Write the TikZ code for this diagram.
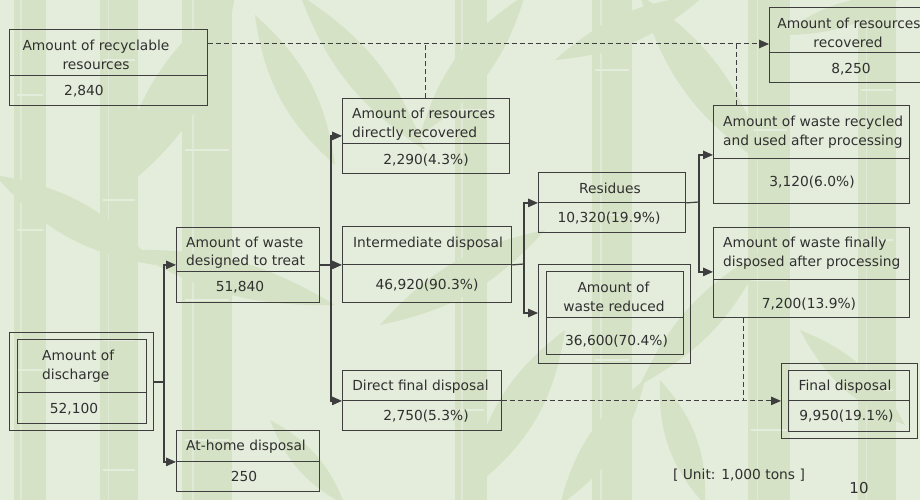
\documentclass[tikz,border=0pt]{standalone}
\usepackage{fontspec}
\setmainfont{DejaVu Sans}
\usetikzlibrary{arrows.meta,calc}

\definecolor{paper}{RGB}{228,237,220}
\definecolor{bamboo}{RGB}{213,226,197}
\definecolor{rule}{RGB}{62,62,62}
\definecolor{ink}{RGB}{48,48,48}

\tikzset{
  cell/.style={draw=rule, line width=0.9pt, inner sep=0pt, anchor=north west},
  frame/.style={cell},
  txt/.style={text=ink, font=\fontsize{13.8}{16}\selectfont, inner sep=0pt, anchor=base},
  ltxt/.style={txt, anchor=base west},
  flow/.style={draw=rule, line width=1.2pt},
  arr/.style={flow, -{Triangle[length=10pt,width=8.5pt]}},
  dflow/.style={draw=rule, line width=1pt, dash pattern=on 5pt off 3pt},
  darr/.style={dflow, -{Triangle[length=10pt,width=8.5pt]}},
}

% a box made of a label cell over a value cell: name, x1, y1, ymid, x2, y2
\newcommand\cellpair[6]{%
  \node[cell, minimum width={#5-#2}, minimum height={#4-#3}] (#1) at (#2,#3) {};
  \node[cell, minimum width={#5-#2}, minimum height={#6-#4}] (#1-v) at (#2,#4) {};}

% a bamboo stalk: left x, width, joint positions
\newcommand\stalk[3]{%
  \fill[bamboo] (#1,0) rectangle ({#1+#2},500);
  \foreach \j in {#3} {\draw[paper, line width=2.5pt] ({#1+3},\j) -- ({#1+#2-3},\j);}
  \draw[paper, line width=1.5pt, opacity=0.7] ({#1+#2*0.22},0) -- ({#1+#2*0.22},500);}

% a bamboo leaf between two tips
\newcommand\bleaf[5]{%
  \fill[bamboo] (#1,#2) to[bend left=#5] (#3,#4) to[bend left=#5] (#1,#2);}

\begin{document}
\begin{tikzpicture}[x=1pt,y=-1pt]
\useasboundingbox (0,0) rectangle (920,500);

% ---- background ----
\begin{scope}
\clip (0,0) rectangle (920,500);
\fill[paper] (0,0) rectangle (920,500);
\stalk{14}{32}{95,230,370}
\stalk{100}{38}{60,200,340,470}
\stalk{182}{50}{150,300,440}
\stalk{455}{32}{110,260,410}
\stalk{592}{40}{70,215,360}
\stalk{748}{42}{130,280,430}
\stalk{858}{38}{90,240,390}
\bleaf{235}{-5}{115}{195}{22}
\bleaf{255}{15}{335}{165}{20}
\bleaf{300}{-5}{425}{150}{18}
\bleaf{525}{-5}{420}{135}{20}
\bleaf{555}{60}{705}{-5}{18}
\bleaf{640}{-5}{765}{165}{20}
\bleaf{780}{35}{905}{-5}{18}
\bleaf{-5}{175}{155}{265}{20}
\bleaf{130}{250}{335}{305}{16}
\bleaf{380}{325}{545}{230}{18}
\bleaf{470}{490}{565}{330}{22}
\bleaf{560}{505}{645}{380}{20}
\bleaf{640}{385}{765}{250}{18}
\bleaf{800}{330}{905}{425}{20}
\bleaf{705}{505}{660}{380}{22}
\bleaf{270}{420}{345}{505}{20}
\end{scope}

% ---- boxes ----
\cellpair{rec}{9}{29}{75}{207}{105}
\cellpair{rr}{769}{7}{52}{933}{82}
\cellpair{dr}{342}{98}{143}{509}{173}
\cellpair{ru}{713}{105}{158}{909}{203}
\cellpair{res}{538}{172}{202}{685}{232}
\node[frame, minimum width=152, minimum height=99] (red) at (538,264) {};
\cellpair{redi}{546}{271}{317}{683}{354}
\cellpair{im}{342}{226}{264}{511}{302}
\cellpair{fd}{713}{227}{279}{909}{317}
\cellpair{dfd}{342}{370}{400}{501}{430}
\node[frame, minimum width=136, minimum height=75] (fin) at (781,363) {};
\cellpair{fini}{788}{370}{400}{909}{431}
\cellpair{dt}{176}{227}{271}{319}{302}
\node[frame, minimum width=144, minimum height=98] (dis) at (9,332) {};
\cellpair{disi}{17}{339}{392}{146}{423}
\cellpair{ah}{176}{430}{461}{319}{491}

% ---- texts ----
\node[txt] (rec-l1) at (96,50.5) {Amount of recyclable};
\node[txt] (rec-l2) at (96,70) {resources};
\node[txt] (rec-n) at (84,96) {2,840};

\node[txt] (rr-l1) at (849,29) {Amount of resources};
\node[txt] (rr-l2) at (848,47.3) {recovered};
\node[txt] (rr-n) at (851,73.3) {8,250};

\node[ltxt] (dr-l1) at (352,119) {Amount of resources};
\node[ltxt] (dr-l2) at (352,137.7) {directly recovered};
\node[txt] (dr-n) at (426,164) {2,290(4.3\%)};

\node[ltxt] (ru-l1) at (723,126.7) {Amount of waste recycled};
\node[ltxt] (ru-l2) at (723,145) {and used after processing};
\node[txt] (ru-n) at (812,186) {3,120(6.0\%)};

\node[txt] (res-l1) at (610,193) {Residues};
\node[txt] (res-n) at (609,222) {10,320(19.9\%)};

\node[txt] (red-l1) at (613.5,292.7) {Amount of};
\node[txt] (red-l2) at (614,311.7) {waste reduced};
\node[txt] (red-n) at (616.5,345) {36,600(70.4\%)};

\node[txt] (im-l1) at (428,247.3) {Intermediate disposal};
\node[txt] (im-n) at (427,289.3) {46,920(90.3\%)};

\node[ltxt] (fd-l1) at (723,247.7) {Amount of waste finally};
\node[ltxt] (fd-l2) at (723,266) {disposed after processing};
\node[txt] (fd-n) at (809,308.7) {7,200(13.9\%)};

\node[txt] (dfd-l1) at (420.5,390.7) {Direct final disposal};
\node[txt] (dfd-n) at (426,420.7) {2,750(5.3\%)};

\node[txt] (fin-l1) at (845,390.7) {Final disposal};
\node[txt] (fin-n) at (846.5,420.7) {9,950(19.1\%)};

\node[ltxt] (dt-l1) at (186,247.3) {Amount of waste};
\node[ltxt] (dt-l2) at (186,265.7) {designed to treat};
\node[txt] (dt-n) at (240,291.7) {51,840};

\node[ltxt] (dis-l1) at (42,360.7) {Amount of};
\node[ltxt] (dis-l2) at (42,379) {discharge};
\node[txt] (dis-n) at (74,413.3) {52,100};

\node[txt] (ah-l1) at (246,450.7) {At-home disposal};
\node[txt] (ah-n) at (244,481) {250};

\node[txt] (unit) at (739,479) {[ Unit: 1,000 tons ]};
\node[txt, font=\fontsize{15}{17}\selectfont] (page) at (859,493.3) {10};

% ---- junctions ----
\coordinate (j1) at (164,382);
\coordinate (j2) at (331,264);
\coordinate (j3) at (524,264);
\coordinate (j4) at (699,202);
\coordinate (topline) at (0,44);
\coordinate (ru-up) at ([xshift=23pt]ru.north west);
\coordinate (fd-dn) at ([xshift=30pt]fd-v.south west);

% ---- solid flows ----
\draw[flow] (dis.east |- j1) -- (j1);
\draw[arr] (j1) |- ([yshift=7pt]dt.south west);
\draw[arr] (j1) |- (ah.south west);

\draw[arr] (dt.east |- im.south west) -- (im.south west);
\draw[arr] (j2) |- ([yshift=8pt]dr.south west);
\draw[arr] (j2) |- (dfd.south west);

\draw[flow] (im.south east) -- (j3);
\draw[arr] (j3) |- (res.south west);
\draw[arr] (j3) |- ([yshift=-49pt]red.north west);

\draw[flow] (res.south east) -- (j4);
\draw[arr] (j4) |- ([yshift=4pt]ru.south west);
\draw[arr] (j4) |- ([yshift=8pt]fd.south west);

% ---- dashed flows ----
\draw[darr] ([yshift=-15pt]rec.north east) -- ([yshift=-37pt]rr.north west);
\draw[dflow] (dr.north) -- (dr.north |- topline);
\draw[dflow] (ru-up) -- (ru-up |- topline);
\draw[darr] (dfd.south east) -- (fin.west |- dfd.south east);
\draw[dflow] (fd-dn) -- (fd-dn |- dfd.south east);
\end{tikzpicture}
\end{document}
